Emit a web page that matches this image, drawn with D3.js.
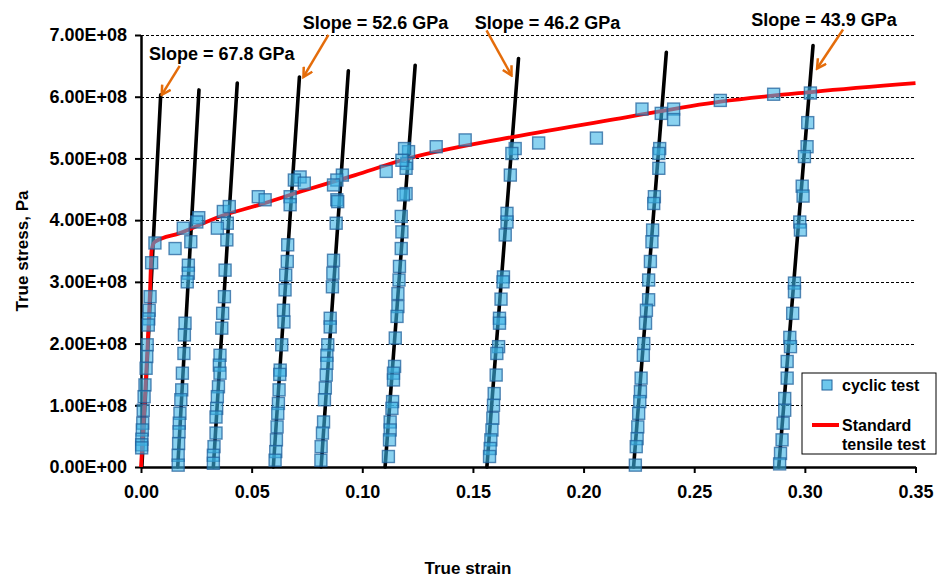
<!DOCTYPE html>
<html>
<head>
<meta charset="utf-8">
<script src="https://cdn.jsdelivr.net/npm/d3@7"></script>
<style>
  html, body { margin: 0; padding: 0; background: #fff; }
  svg { display: block; font-family: "Liberation Sans", Arial, sans-serif; font-weight: bold; }
</style>
</head>
<body>
<div id="chart"></div>
<script>
/* ===== data ===== */

const xTicks = [0, 0.05, 0.10, 0.15, 0.20, 0.25, 0.30, 0.35];
const yTicks = [0, 1e8, 2e8, 3e8, 4e8, 5e8, 6e8, 7e8];

// standard tensile test (strain, stress in MPa)
const tensileStrain = [0, 0.0041, 0.0048, 0.0063, 0.0176, 0.0357, 0.0527, 0.0719, 0.0968, 0.1179, 0.1684, 0.2166, 0.2618, 0.3040, 0.3500];
const tensileStress = [0, 287, 352, 365, 379, 406, 424, 446, 473, 497, 535, 565, 592, 608, 622];

// unloading / reloading lines: [strain at 0, strain at top, stress at top (MPa)]
const reloadLines = [
  [0.0004, 0.0089, 603],
  [0.0166, 0.0262, 611],
  [0.0327, 0.0435, 622],
  [0.0598, 0.0716, 632],
  [0.0814, 0.0937, 642],
  [0.1103, 0.1239, 651],
  [0.1563, 0.1706, 662],
  [0.2226, 0.2374, 672],
  [0.2882, 0.3037, 683]
];

// slope labels and the line each one points at
const slopeLabels = ['Slope = 67.8 GPa', 'Slope = 52.6 GPa', 'Slope = 46.2 GPa', 'Slope = 43.9 GPa'];
const slopeTargets = [0, 3, 6, 8];

// cyclic test points (strain, stress in MPa)
const cycle1 = [[0.0063,363],[0.0048,331],[0.0041,276],[0.0037,254],[0.0035,240],[0.0033,230],[0.0028,198],[0.0026,179],
  [0.0023,160],[0.0018,133],[0.0014,114],[0.0010,92],[0.0008,71],[0.0006,60],[0.0004,45],[0.0003,36],[0.0003,31],[0.0154,354]];
const cycle2 = [[0.0261,404],[0.0252,397],[0.0191,387],[0.0225,365],[0.0214,327],[0.0214,314],[0.0209,300],[0.0199,233],
  [0.0196,214],[0.0194,184],[0.0187,152],[0.0184,125],[0.0180,109],[0.0176,87],[0.0173,71],[0.0172,57],[0.0170,38],[0.0168,19],[0.0168,3]];
const cycle3 = [[0.0530,438],[0.0561,433],[0.0372,414],[0.0399,422],[0.0390,395],[0.0388,368],[0.0345,387],[0.0380,319],
  [0.0377,276],[0.0369,249],[0.0365,225],[0.0357,181],[0.0354,165],[0.0357,152],[0.0350,130],[0.0345,114],[0.0342,95],
  [0.0339,81],[0.0339,55],[0.0330,33],[0.0327,19],[0.0327,6]];
const cycle4 = [[0.0719,470],[0.0693,465],[0.0738,460],[0.0674,438],[0.0674,425],[0.0663,360],[0.0661,333],[0.0654,311],
  [0.0651,287],[0.0644,254],[0.0646,235],[0.0636,198],[0.0629,157],[0.0627,150],[0.0624,125],[0.0621,103],[0.0618,87],
  [0.0615,65],[0.0612,44],[0.0609,25],[0.0606,11]];
const cycle5 = [[0.0910,473],[0.0885,465],[0.0870,457],[0.0885,433],[0.0889,430],[0.0882,395],[0.0870,335],[0.0867,314],
  [0.0865,292],[0.0855,241],[0.0855,227],[0.0844,198],[0.0840,181],[0.0840,168],[0.0837,149],[0.0833,128],[0.0829,109],
  [0.0825,73],[0.0820,55],[0.0814,33],[0.0813,11],[0.1108,479]];
const cycle6 = [[0.1209,511],[0.1201,492],[0.1198,484],[0.1198,443],[0.1191,516],[0.1179,497],[0.1186,441],[0.1176,406],
  [0.1179,381],[0.1176,354],[0.1168,325],[0.1166,303],[0.1161,281],[0.1161,260],[0.1157,244],[0.1149,209],[0.1146,163],
  [0.1141,152],[0.1141,141],[0.1137,106],[0.1134,95],[0.1126,73],[0.1126,60],[0.1123,44],[0.1118,17]];
const cycle7 = [[0.1691,516],[0.1676,508],[0.1669,473],[0.1654,411],[0.1654,397],[0.1646,376],[0.1638,308],[0.1636,300],
  [0.1627,272],[0.1620,241],[0.1620,233],[0.1616,195],[0.1608,184],[0.1605,149],[0.1596,119],[0.1593,100],[0.1590,79],
  [0.1586,60],[0.1581,44],[0.1578,30],[0.1575,17],[0.1334,519],[0.1465,530],[0.1797,525],[0.2058,533]];
const cycle8 = [[0.2264,580],[0.2351,573],[0.2407,580],[0.2407,563],[0.2344,516],[0.2340,508],[0.2340,484],[0.2320,438],
  [0.2317,427],[0.2312,384],[0.2309,365],[0.2302,333],[0.2294,303],[0.2294,271],[0.2284,254],[0.2280,233],[0.2272,200],
  [0.2270,181],[0.2260,144],[0.2257,122],[0.2254,106],[0.2249,87],[0.2245,65],[0.2242,46],[0.2238,33],[0.2234,3],
  [0.2618,594],[0.2859,604]];
const cycle9 = [[0.3025,606],[0.3013,558],[0.3010,519],[0.2998,503],[0.2988,455],[0.2992,439],[0.2977,397],[0.2980,384],
  [0.2953,298],[0.2953,284],[0.2945,249],[0.2932,210],[0.2935,195],[0.2920,171],[0.2920,144],[0.2909,111],[0.2909,92],
  [0.2902,71],[0.2897,44],[0.2890,22],[0.2886,5]];

const cycles = [cycle1, cycle2, cycle3, cycle4, cycle5, cycle6, cycle7, cycle8, cycle9];

/* ===== chart ===== */

const width = 940, height = 579;
const margin = { top: 35, right: 24.5, bottom: 112, left: 141 };
const innerW = width - margin.left - margin.right;
const innerH = height - margin.top - margin.bottom;

const BLUE_FILL = '#3cb4e6';
const BLUE_STROKE = '#22629c';
const RED = '#ff0000';
const ORANGE = '#e46c0a';

const svg = d3.select('#chart').append('svg')
  .attr('width', width).attr('height', height);

svg.append('rect').attr('width', width).attr('height', height).attr('fill', '#fff');

const x = d3.scaleLinear().domain([0, 0.35]).range([0, innerW]);
const y = d3.scaleLinear().domain([0, 7e8]).range([innerH, 0]);
const MPa = 1e6;

const g = svg.append('g').attr('transform', `translate(${margin.left},${margin.top})`);

// Gridlines
g.append('g')
  .selectAll('line')
  .data(yTicks.filter(t => t > 0))
  .join('line')
  .attr('x1', 0).attr('x2', innerW)
  .attr('y1', d => Math.round(y(d)) + 0.5).attr('y2', d => Math.round(y(d)) + 0.5)
  .attr('stroke', '#000').attr('stroke-width', 1)
  .attr('stroke-dasharray', '3,2');

function sciFormat(v) {
  const [m, e] = v.toExponential(2).split('e');
  const ex = Math.abs(+e);
  return m + 'E' + (+e < 0 ? '-' : '+') + String(ex).padStart(2, '0');
}

// Axes
const xAxis = g.append('g')
  .attr('transform', `translate(0,${innerH})`)
  .call(d3.axisBottom(x).tickValues(xTicks).tickFormat(d3.format('.2f')).tickSizeInner(6).tickSizeOuter(0).tickPadding(12));
const yAxis = g.append('g')
  .call(d3.axisLeft(y).tickValues(yTicks).tickFormat(sciFormat).tickSizeInner(6).tickSizeOuter(0).tickPadding(8));

[xAxis, yAxis].forEach(a => {
  a.select('.domain').attr('stroke', '#000').attr('stroke-width', 2.5);
  a.selectAll('.tick line').attr('stroke', '#000').attr('stroke-width', 2);
  a.selectAll('.tick text')
    .style('font-family', '"Liberation Sans", Arial, sans-serif')
    .style('font-weight', 'bold')
    .style('font-size', '18px')
    .attr('fill', '#000');
});

// Axis titles
svg.append('text')
  .attr('x', 468).attr('y', 574)
  .attr('text-anchor', 'middle')
  .style('font-size', '17px')
  .text('True strain');

svg.append('text')
  .attr('transform', `translate(28,${margin.top + innerH / 2}) rotate(-90)`)
  .attr('text-anchor', 'middle')
  .style('font-size', '17px')
  .text('True stress, Pa');

// Reload / unload lines
g.append('g')
  .selectAll('line')
  .data(reloadLines)
  .join('line')
  .attr('x1', d => x(d[0])).attr('y1', y(0))
  .attr('x2', d => x(d[1])).attr('y2', d => y(d[2] * MPa))
  .attr('stroke', '#000').attr('stroke-width', 3.6)
  .attr('stroke-linecap', 'round');

// Standard tensile test curve
const tensile = tensileStrain.map((s, i) => [s, tensileStress[i]]);
g.append('path')
  .datum(tensile)
  .attr('fill', 'none')
  .attr('stroke', RED)
  .attr('stroke-width', 3.8)
  .attr('stroke-linejoin', 'round')
  .attr('d', d3.line().x(d => x(d[0])).y(d => y(d[1] * MPa)).curve(d3.curveMonotoneX));

// Cyclic test squares
const SQ = 12;
g.append('g')
  .selectAll('rect')
  .data(cycles.flat())
  .join('rect')
  .attr('x', d => x(d[0]) - SQ / 2)
  .attr('y', d => y(d[1] * MPa) - SQ / 2)
  .attr('width', SQ).attr('height', SQ)
  .attr('fill', BLUE_FILL).attr('fill-opacity', 0.6)
  .attr('stroke', BLUE_STROKE).attr('stroke-opacity', 0.75).attr('stroke-width', 1.4);

// Slope annotations (offsets from the top of the target line, px)
const annoLayout = [
  { text: [61, -41], tail: [19, -29], tip: [1, 0] },
  { text: [76, -54], tail: [29, -42], tip: [4, 0] },
  { text: [29, -36], tail: [-32, -28], tip: [-7, 17] },
  { text: [11, -26], tail: [30, -16], tip: [4, 23] }
];

const defs = svg.append('defs');
defs.append('marker')
  .attr('id', 'open-arrow')
  .attr('viewBox', '0 0 12 12')
  .attr('refX', 10).attr('refY', 6)
  .attr('markerWidth', 12).attr('markerHeight', 12)
  .attr('markerUnits', 'userSpaceOnUse')
  .attr('orient', 'auto')
  .append('path')
  .attr('d', 'M1,1 L10,6 L1,11')
  .attr('fill', 'none').attr('stroke', ORANGE).attr('stroke-width', 2.5)
  .attr('stroke-linejoin', 'miter');

slopeLabels.forEach((label, i) => {
  const ln = reloadLines[slopeTargets[i]];
  const tx = x(ln[1]), ty = y(ln[2] * MPa);
  const L = annoLayout[i];
  g.append('line')
    .attr('x1', tx + L.tail[0]).attr('y1', ty + L.tail[1])
    .attr('x2', tx + L.tip[0]).attr('y2', ty + L.tip[1])
    .attr('stroke', ORANGE).attr('stroke-width', 2.5)
    .attr('marker-end', 'url(#open-arrow)');
  g.append('text')
    .attr('x', tx + L.text[0]).attr('y', ty + L.text[1] + 6.5)
    .attr('text-anchor', 'middle')
    .style('font-size', '18px')
    .text(label);
});

// Legend
const lg = svg.append('g').attr('transform', 'translate(802,373)');
lg.append('rect')
  .attr('width', 134).attr('height', 81)
  .attr('fill', '#fff').attr('stroke', '#000').attr('stroke-width', 1);
lg.append('rect')
  .attr('x', 20).attr('y', 7).attr('width', 10).attr('height', 10)
  .attr('fill', BLUE_FILL).attr('fill-opacity', 0.75)
  .attr('stroke', BLUE_STROKE).attr('stroke-width', 1);
lg.append('text').attr('x', 40).attr('y', 18).style('font-size', '16px').text('cyclic test');
lg.append('line')
  .attr('x1', 10).attr('x2', 37).attr('y1', 52).attr('y2', 52)
  .attr('stroke', RED).attr('stroke-width', 4);
lg.append('text').attr('x', 40).attr('y', 58).style('font-size', '16px').text('Standard');
lg.append('text').attr('x', 40).attr('y', 77).style('font-size', '16px').text('tensile test');
</script>
</body>
</html>
